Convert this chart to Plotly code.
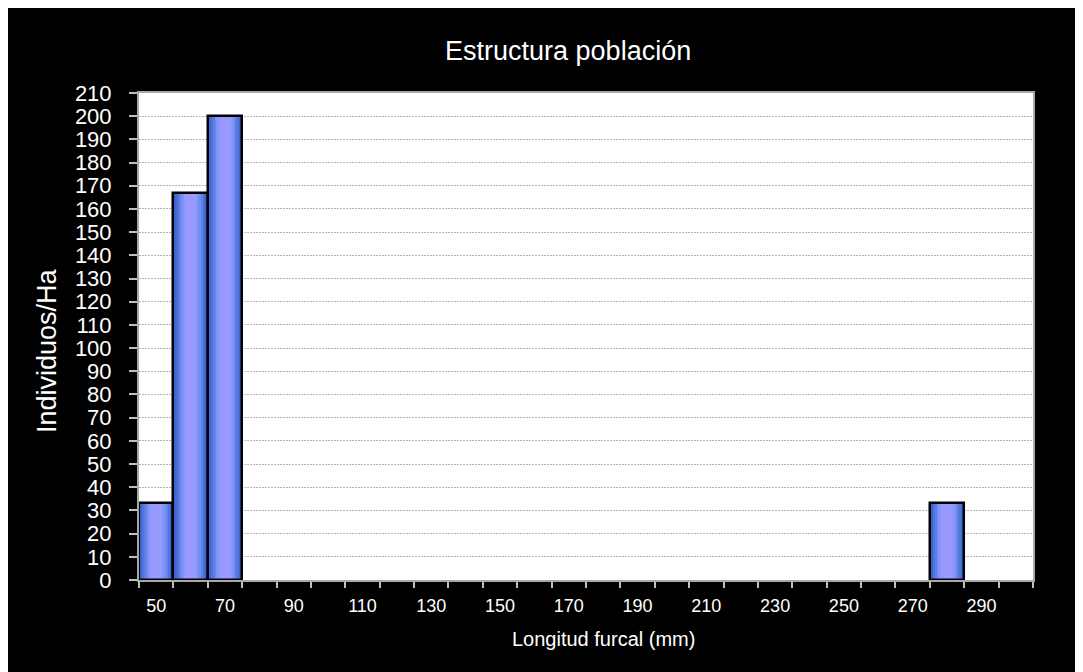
import plotly.graph_objects as go

# longitud furcal (mm), clases de 10 mm
clases = [50, 60, 70, 80, 90, 100, 110, 120, 130, 140, 150, 160, 170,
          180, 190, 200, 210, 220, 230, 240, 250, 260, 270, 280, 290, 300]
individuos = [33.3, 166.7, 200, 0, 0, 0, 0, 0, 0, 0, 0, 0, 0,
              0, 0, 0, 0, 0, 0, 0, 0, 0, 0, 33.3, 0, 0]
etiquetas_x = [50, 70, 90, 110, 130, 150, 170, 190, 210, 230, 250, 270, 290]

# capas para imitar el degradado horizontal de las barras
capas = [(10.0, '#3560d0'), (9.0, '#4069d6'), (8.0, '#4e74dd'),
         (7.0, '#5e80e5'), (6.0, '#6f8bee'), (5.0, '#8093f6'),
         (4.0, '#8e98fc'), (3.0, '#9999ff')]

fig = go.Figure()
for ancho, color in capas:
    fig.add_bar(x=clases, y=individuos, width=ancho,
                marker=dict(color=color, line=dict(width=0)),
                hoverinfo='skip')

# contorno negro encima
fig.add_bar(x=clases, y=[v if v else None for v in individuos], width=10,
            marker=dict(color='rgba(0,0,0,0)', line=dict(color='black', width=2.5)))

fig.update_layout(
    width=1083, height=672,
    paper_bgcolor='black', plot_bgcolor='white',
    margin=dict(l=131, r=58, t=85, b=100),
    barmode='overlay', bargap=0, showlegend=False,
    font=dict(family='Liberation Sans, Arial', color='white'),
    title=dict(text='Estructura población', font=dict(size=27, color='white'),
               x=0.48, xref='paper', xanchor='center',
               y=1 - 43 / 672, yref='container', yanchor='middle'),
)

fig.add_annotation(text='Longitud furcal (mm)', xref='paper', yref='paper',
                   x=0.52, y=-0.121, xanchor='center', yanchor='middle',
                   showarrow=False, font=dict(size=20, color='white'))
fig.add_annotation(text='Individuos/Ha', xref='paper', yref='paper',
                   x=-0.103, y=0.472, xanchor='center', yanchor='middle',
                   textangle=-90, showarrow=False, font=dict(size=27, color='white'))

fig.update_xaxes(
    range=[45, 305], tickvals=etiquetas_x,
    ticks='outside', ticklen=6, tickcolor='rgba(0,0,0,0)',
    tickfont=dict(size=18, color='white'), ticklabelstandoff=2,
    minor=dict(tick0=45, dtick=10, ticks='outside', ticklen=6,
               tickcolor='#bfbfbf', tickwidth=1.5, showgrid=False),
    showgrid=False, zeroline=False,
    showline=True, linecolor='#a8a8a8', linewidth=2, mirror=True,
)

fig.update_yaxes(
    range=[0, 210], dtick=10,
    ticks='outside', ticklen=8, tickcolor='#bfbfbf', tickwidth=1.5,
    tickfont=dict(size=22, color='white'), ticklabelstandoff=13,
    showgrid=True, gridcolor='#b4b4b4', griddash='2px,1px', gridwidth=1,
    zeroline=False,
    showline=True, linecolor='#a8a8a8', linewidth=2, mirror=True,
)

fig.write_html('out.html')
